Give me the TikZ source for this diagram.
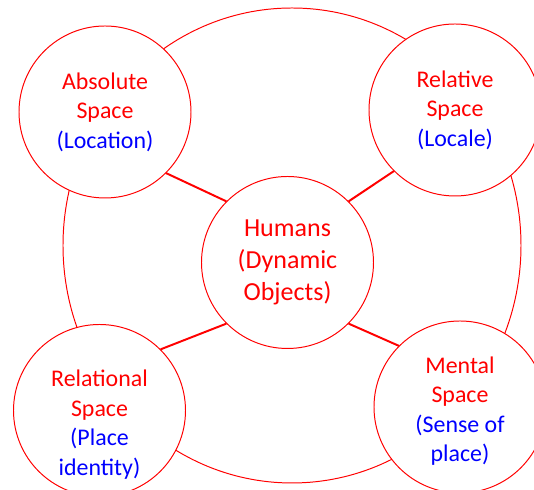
\documentclass[tikz,border=0pt]{standalone}
\usepackage{fontspec}
\setmainfont{Carlito}
\usepackage{tikz}
\usetikzlibrary{positioning}

\begin{document}
\begin{tikzpicture}[scale=1,
        spot/.style={circle, draw=red, line width=0.7pt, fill=white, minimum size=4.3cm, inner sep=0pt},
        words/.style={align=center, text=red, font=\fontsize{17}{21}\selectfont},
        bigwords/.style={align=center, text=red, font=\fontsize{18.5}{22.75}\selectfont},
        link/.style={red, line width=1.4pt}]
        \useasboundingbox (0,0) rectangle (13.35,12.25);

        \coordinate (O) at (7.3,6.1125);
        \draw[red, line width=0.7pt] (O) ellipse [x radius=5.725, y radius=5.9375];

        \node[spot] (absolute) at (2.625,9.45) {};
        \node[spot] (relative) at (11.375,9.5) {};
        \node[spot] (humans) at (7.1875,5.6875) {};
        \node[spot] (relational) at (2.4875,1.9875) {};
        \node[spot] (mental) at (11.5,2.075) {};

        \draw[link] (absolute.south east) -- (humans.north west);
        \draw[link] (relative.south west) -- (humans.north east);
        \draw[link] (relational.north east) -- (humans.south west);
        \draw[link] (mental.north west) -- (humans.south east);

        \node[words] (absolutetext) at (absolute) {Absolute\\Space\\\textcolor{blue}{(Location)}};
        \node[words] (relativetext) at (relative) {Relative\\Space\\\textcolor{blue}{(Locale)}};
        \node[bigwords] (humanstext) at (humans) {Humans\\(Dynamic\\Objects)};
        \node[words] (relationaltext) at ([yshift=-0.35cm]relational) {Relational\\Space\\\textcolor{blue}{(Place}\\\textcolor{blue}{identity)}};
        \node[words] (mentaltext) at ([yshift=-0.1cm]mental) {Mental\\Space\\\textcolor{blue}{(Sense of}\\\textcolor{blue}{place)}};
    \end{tikzpicture}
\end{document}
